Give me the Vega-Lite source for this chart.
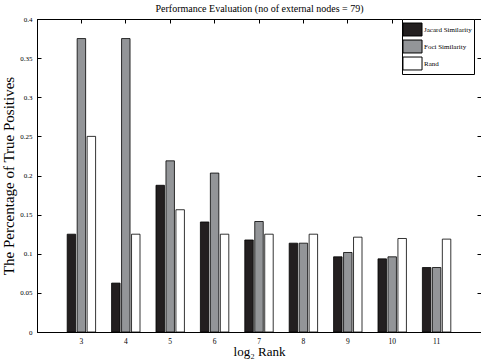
{
  "$schema": "https://vega.github.io/schema/vega-lite/v6.json",
  "width": 444,
  "height": 313,
  "autosize": "none",
  "padding": {"left": 37, "top": 19, "right": 0, "bottom": 32},
  "background": "white",
  "config": {
    "font": "Liberation Serif",
    "view": {"stroke": "black", "strokeWidth": 1},
    "axis": {"grid": false, "domainColor": "black", "tickColor": "black", "labelColor": "black", "titleColor": "black", "labelFont": "Liberation Serif", "titleFont": "Liberation Serif", "titleFontWeight": "normal"}
  },
  "data": {"values": [
    {"rank": 3, "method": "Jacard Similarity", "value": 0.125},
    {"rank": 3, "method": "Foci Similarity", "value": 0.375},
    {"rank": 3, "method": "Rand", "value": 0.25},
    {"rank": 4, "method": "Jacard Similarity", "value": 0.0625},
    {"rank": 4, "method": "Foci Similarity", "value": 0.375},
    {"rank": 4, "method": "Rand", "value": 0.125},
    {"rank": 5, "method": "Jacard Similarity", "value": 0.1875},
    {"rank": 5, "method": "Foci Similarity", "value": 0.21875},
    {"rank": 5, "method": "Rand", "value": 0.15625},
    {"rank": 6, "method": "Jacard Similarity", "value": 0.1406},
    {"rank": 6, "method": "Foci Similarity", "value": 0.2031},
    {"rank": 6, "method": "Rand", "value": 0.125},
    {"rank": 7, "method": "Jacard Similarity", "value": 0.1176},
    {"rank": 7, "method": "Foci Similarity", "value": 0.1412},
    {"rank": 7, "method": "Rand", "value": 0.125},
    {"rank": 8, "method": "Jacard Similarity", "value": 0.1135},
    {"rank": 8, "method": "Foci Similarity", "value": 0.1135},
    {"rank": 8, "method": "Rand", "value": 0.125},
    {"rank": 9, "method": "Jacard Similarity", "value": 0.0961},
    {"rank": 9, "method": "Foci Similarity", "value": 0.1016},
    {"rank": 9, "method": "Rand", "value": 0.1212},
    {"rank": 10, "method": "Jacard Similarity", "value": 0.0935},
    {"rank": 10, "method": "Foci Similarity", "value": 0.0961},
    {"rank": 10, "method": "Rand", "value": 0.1195},
    {"rank": 11, "method": "Jacard Similarity", "value": 0.0824},
    {"rank": 11, "method": "Foci Similarity", "value": 0.0824},
    {"rank": 11, "method": "Rand", "value": 0.1187}
  ]},
  "layer": [
    {
      "mark": {"type": "bar", "stroke": "black", "strokeWidth": 0.8},
      "encoding": {
        "x": {"field": "rank", "type": "ordinal", "sort": null,
          "scale": {"type": "band", "paddingInner": 0.36, "paddingOuter": 0.68},
          "axis": {"orient": "bottom", "title": "log₂ Rank", "titleFontSize": 13, "labelFontSize": 7.5, "labelAngle": 0, "tickSize": -4, "labelPadding": 9, "titlePadding": 1, "domainWidth": 1}},
        "xOffset": {"field": "method", "type": "nominal", "sort": ["Jacard Similarity", "Foci Similarity", "Rand"], "scale": {"paddingInner": 0.15, "paddingOuter": 0}},
        "y": {"field": "value", "type": "quantitative",
          "scale": {"domain": [0, 0.4], "nice": false},
          "axis": {"orient": "left", "title": "The Percentage of True Positives", "titleFontSize": 15, "labelFontSize": 7, "values": [0, 0.05, 0.1, 0.15, 0.2, 0.25, 0.3, 0.35, 0.4], "format": "~g", "tickSize": -4, "labelPadding": 9, "titlePadding": 3}},
        "fill": {"field": "method", "type": "nominal",
          "sort": ["Jacard Similarity", "Foci Similarity", "Rand"],
          "scale": {"domain": ["Jacard Similarity", "Foci Similarity", "Rand"], "range": ["#231f20", "#939598", "#ffffff"]},
          "legend": {"title": null, "orient": "none", "legendX": 365, "legendY": 0, "padding": 2, "strokeColor": "black", "fillColor": "white", "labelFontSize": 7, "labelFont": "Liberation Serif", "labelColor": "black", "symbolType": "M-1.19,-0.81H1.19V0.81H-1.19Z", "symbolSize": 256, "symbolStrokeColor": "black", "symbolStrokeWidth": 1, "rowPadding": 0, "labelOffset": 3}}
      }
    },
    {
      "mark": {"type": "bar", "opacity": 0},
      "encoding": {
        "x": {"field": "rank", "type": "ordinal", "sort": null,
          "axis": {"orient": "top", "title": "Performance Evaluation (no of external nodes = 79)", "titleFontSize": 10, "titlePadding": 5, "labels": false, "tickSize": -4}},
        "y": {"field": "value", "type": "quantitative",
          "axis": {"orient": "right", "title": null, "labels": false, "values": [0, 0.05, 0.1, 0.15, 0.2, 0.25, 0.3, 0.35, 0.4], "tickSize": -4}}
      }
    }
  ],
  "resolve": {"axis": {"x": "independent", "y": "independent"}}
}
